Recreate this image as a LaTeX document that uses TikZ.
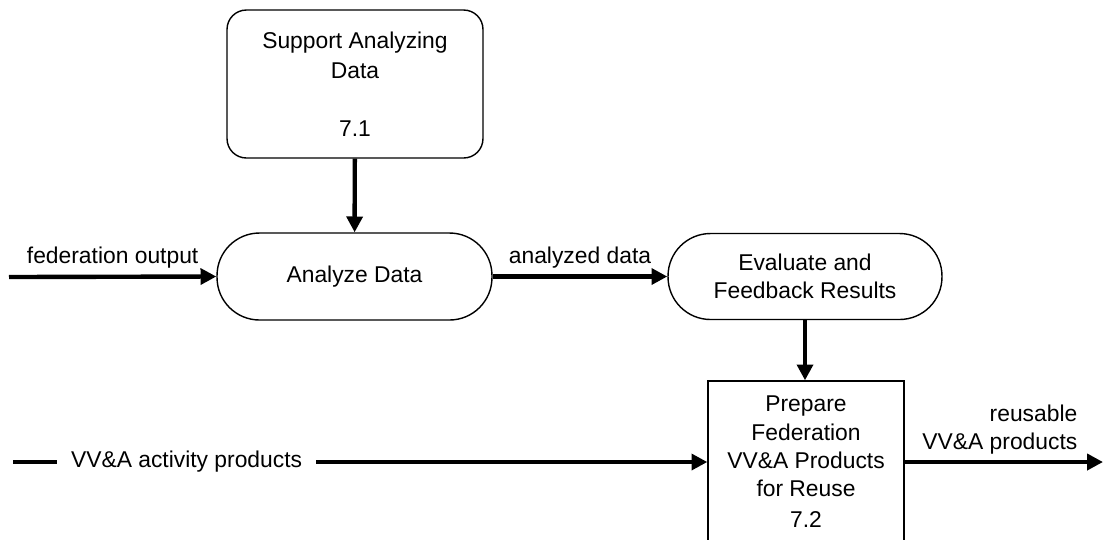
\documentclass[tikz,border=0pt]{standalone}
\usepackage{fontspec}
\setmainfont{Liberation Sans}
\usetikzlibrary{arrows.meta}

\tikzset{
	process/.style={draw, line width=0.8pt, align=center, font=\fontsize{13}{16}\selectfont},
	flow/.style={line width=2.5pt, -{Triangle[length=9pt,width=9pt]}},
	flowlabel/.style={font=\fontsize{13}{16}\selectfont, align=center}
}

\begin{document}
\begin{tikzpicture}[x=0.02cm, y=-0.02cm]
				  \useasboundingbox (0,0) rectangle (1104,539);
				  \clip (0,0) rectangle (1104,539);
				  \node[process, rounded corners=11pt, minimum width=5.12cm, minimum height=2.96cm, font=\fontsize{13}{17}\selectfont] (sad) at (355,84) {Support Analyzing\\Data\\[16pt]7.1};
				  \node[process, rounded corners=0.85cm, minimum width=5.5cm, minimum height=1.74cm] (ad) at (354.5,276.5) {Analyze Data};
				  \node[process, rounded corners=0.85cm, minimum width=5.48cm, minimum height=1.72cm] (efr) at (805,276.5) {Evaluate and\\Feedback Results};
				  \node[process, minimum width=3.92cm, minimum height=3.24cm] (pfp) at (806,462) {Prepare\\Federation\\VV\&A Products\\for Reuse\\[2pt]7.2};
				  \coordinate (fedin) at (9,277);
				  \coordinate (vvain) at (13,462);
				  \coordinate (reuseout) at (1103,462);
				  \draw[flow] (sad) -- (ad);
				  \draw[flow] (fedin) -- node[flowlabel, above] {federation output} (ad.west);
				  \draw[flow] (ad.east) -- node[flowlabel, above] {analyzed data} (efr.west);
				  \draw[flow] (efr.south) -- (efr.south |- pfp.north);
				  \draw[flow] (vvain) -- node[flowlabel, pos=0.25, fill=white, inner xsep=8pt] {VV\&A activity products} (pfp.west);
				  \draw[flow] (pfp.east) -- node[flowlabel, pos=0.48, above, align=right] {reusable\\VV\&A products} (reuseout);
				\end{tikzpicture}
\end{document}
